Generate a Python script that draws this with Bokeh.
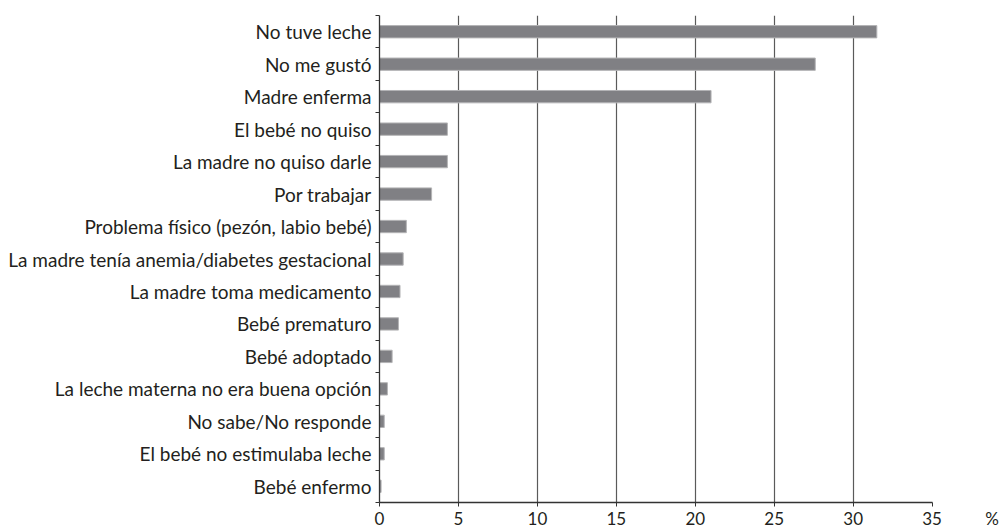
import numpy as np
from bokeh.plotting import figure
from bokeh.models import Range1d, FixedTicker, LinearAxis, ColumnDataSource
from bokeh.embed import file_html
from bokeh.resources import INLINE

categories = [
    "No tuve leche",
    "No me gustó",
    "Madre enferma",
    "El bebé no quiso",
    "La madre no quiso darle",
    "Por trabajar",
    "Problema físico (pezón, labio bebé)",
    "La madre tenía anemia/diabetes gestacional",
    "La madre toma medicamento",
    "Bebé prematuro",
    "Bebé adoptado",
    "La leche materna no era buena opción",
    "No sabe/No responde",
    "El bebé no estimulaba leche",
    "Bebé enfermo",
]
values = [31.5, 27.6, 21.0, 4.3, 4.3, 3.3, 1.7, 1.5, 1.3, 1.2, 0.8, 0.5, 0.3, 0.3, 0.1]
x_ticks = [0, 5, 10, 15, 20, 25, 30, 35]
x_max = 35
unit_label = "%"
unit_pos = 38.8

FONT = "Lato"
TEXT = "#231f20"

n = len(categories)
ypos = [n - i - 0.5 for i in range(n)]
src = ColumnDataSource(dict(y=ypos, v=values, cat=categories))

p = figure(width=1000, height=531, output_backend="svg", toolbar_location=None,
           x_range=Range1d(0, 39.27), y_range=Range1d(0, n),
           min_border_left=379, min_border_right=1, min_border_top=15, min_border_bottom=25)
p.outline_line_color = None
p.background_fill_color = "white"

p.hbar(y="y", left=0, right="v", height=0.38, source=src,
       fill_color="#808084", line_color="#b4b4b6", line_width=1)

# x axis line and tick marks only (limited to 0..35)
xa = p.xaxis[0]
xa.ticker = FixedTicker(ticks=[], minor_ticks=x_ticks)
xa.bounds = (0, x_max)
xa.axis_line_color = "#333333"
xa.axis_line_width = 1.3
xa.major_tick_line_color = None
xa.major_tick_out = 0
xa.major_tick_in = 0
xa.minor_tick_line_color = "#333333"
xa.minor_tick_out = 4
xa.minor_tick_in = 0
xa.major_label_standoff = 0

# x tick labels plus the unit label
xl = LinearAxis(ticker=FixedTicker(ticks=x_ticks + [unit_pos]),
                major_label_overrides={unit_pos: unit_label})
xl.axis_line_color = None
xl.major_tick_line_color = None
xl.minor_tick_line_color = None
xl.major_tick_out = 0
xl.major_tick_in = 0
xl.major_label_text_font = FONT
xl.major_label_text_font_size = "17px"
xl.major_label_text_color = TEXT
xl.major_label_standoff = 1
p.add_layout(xl, "below")

# y axis: labels at centers, ticks at boundaries
p.yaxis.ticker = FixedTicker(ticks=ypos, minor_ticks=list(range(n + 1)))
p.yaxis.major_label_overrides = {y: c for y, c in zip(ypos, categories)}
p.yaxis.axis_line_color = "#333333"
p.yaxis.axis_line_width = 1.3
p.yaxis.major_tick_line_color = None
p.yaxis.major_tick_out = 0
p.yaxis.major_tick_in = 0
p.yaxis.minor_tick_line_color = "#333333"
p.yaxis.minor_tick_out = 4
p.yaxis.minor_tick_in = 0
p.yaxis.major_label_text_font = FONT
p.yaxis.major_label_text_font_size = "19px"
p.yaxis.major_label_text_color = TEXT
p.yaxis.major_label_standoff = 4

p.ygrid.grid_line_color = None
p.xgrid.ticker = FixedTicker(ticks=x_ticks[1:-1])
p.xgrid.grid_line_color = "#5a5a5a"
p.xgrid.grid_line_width = 1.2

open("out.html", "w").write(file_html(p, INLINE))
